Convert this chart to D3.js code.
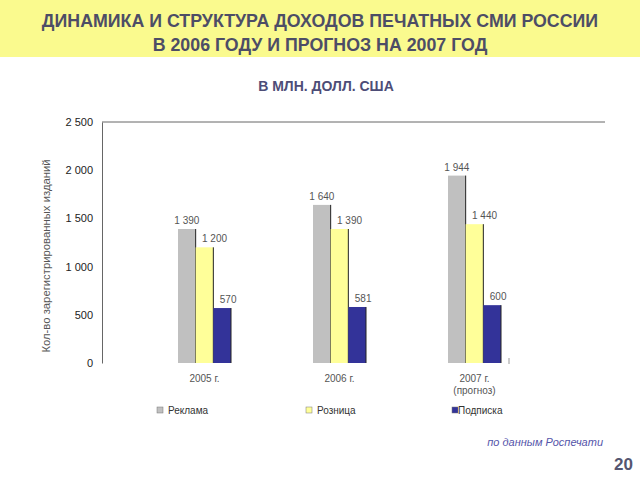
<!DOCTYPE html>
<html><head><meta charset="utf-8">
<script src="https://cdn.jsdelivr.net/npm/d3@7"></script>
<style>body{margin:0;background:#fff;}svg{display:block;font-family:Arial,"Liberation Sans",sans-serif;}</style>
</head><body><svg id="c" width="640" height="480"></svg>
<script>
const categories = ["2005 г.", "2006 г.", "2007 г.|(прогноз)"];
const seriesNames = ["Реклама", "Розница", "Подписка"];
const reklama = [1390, 1640, 1944];
const roznitsa = [1200, 1390, 1440];
const podpiska = [570, 581, 600];
const yTicks = [0, 500, 1000, 1500, 2000, 2500];
const colors = ["#c0c0c0", "#ffff99", "#333399"];
const labelDx = [0, 10, 6];

const series = [reklama, roznitsa, podpiska];
const svg = d3.select("#c");

// banner
svg.append("rect").attr("x",0).attr("y",0).attr("width",640).attr("height",57).attr("fill","#fafa8e");
svg.append("text").attr("x",320).attr("y",27).attr("text-anchor","middle").attr("font-size",17.8).attr("font-weight","bold").attr("fill","#4d4d66").text("ДИНАМИКА И СТРУКТУРА ДОХОДОВ ПЕЧАТНЫХ СМИ РОССИИ");
svg.append("text").attr("x",320).attr("y",51).attr("text-anchor","middle").attr("font-size",17.8).attr("font-weight","bold").attr("fill","#4d4d66").text("В 2006 ГОДУ И ПРОГНОЗ НА 2007 ГОД");
svg.append("text").attr("x",326).attr("y",91).attr("text-anchor","middle").attr("font-size",14).attr("font-weight","bold").attr("fill","#4d4d77").text("В МЛН. ДОЛЛ. США");

const y = d3.scaleLinear().domain([0,2500]).range([363,122]);
const x0 = d3.scaleBand().domain(categories).range([137,542]).paddingInner(0).paddingOuter(0);
const x1 = d3.scaleBand().domain(seriesNames).range([-26.5,26.5]);
const axisX = 102;

// top line
svg.append("line").attr("x1",axisX).attr("x2",605).attr("y1",y(2500)).attr("y2",y(2500)).attr("stroke","#666").attr("stroke-width",1);

// y axis
const yAxis = svg.append("g").attr("transform",`translate(${axisX},0)`)
  .call(d3.axisLeft(y).tickValues(yTicks).tickSize(0).tickPadding(9)
    .tickFormat(d => d3.format(",")(d).replace(/,/g," ")));
yAxis.select(".domain").attr("stroke","#666");
yAxis.selectAll("text").attr("font-size",11).attr("fill","#222").attr("font-family","Arial,'Liberation Sans',sans-serif");

svg.append("text").attr("transform","translate(50,256) rotate(-90)").attr("text-anchor","middle")
  .attr("font-size",11.3).attr("fill","#555").text("Кол-во зарегистрированных изданий");

// bars
const groups = svg.selectAll("g.grp").data(categories).enter().append("g")
  .attr("transform", d => `translate(${x0(d)+x0.bandwidth()/2},0)`);
groups.each(function(cat, ci){
  const g = d3.select(this);
  seriesNames.forEach((s, si) => {
    const v = series[si][ci];
    const bx = x1(s), bw = x1.bandwidth();
    g.append("rect").attr("x",bx).attr("y",y(v)).attr("width",bw).attr("height",y(0)-y(v)).attr("fill",colors[si]);
    g.append("line").attr("x1",bx+bw).attr("x2",bx+bw).attr("y1",y(v)).attr("y2",y(0)).attr("stroke","#222").attr("stroke-width",1);
    g.append("text").attr("x",bx+bw/2+labelDx[si]).attr("y",y(v)-5).attr("text-anchor","middle")
      .attr("font-size",10).attr("fill","#555").text(d3.format(",")(v).replace(/,/g," "));
  });
  cat.split("|").forEach((line, li) => {
    g.append("text").attr("x",0).attr("y",382+li*12).attr("text-anchor","middle")
      .attr("font-size",10).attr("fill","#555").text(line);
  });
});

// small tick at right end
svg.append("line").attr("x1",509).attr("x2",509).attr("y1",358).attr("y2",364).attr("stroke","#999");

// legend
const legX = [157, 306, 452];
const legTX = [168, 317, 458];
seriesNames.forEach((s,i) => {
  svg.append("rect").attr("x",legX[i]).attr("y",407).attr("width",6).attr("height",6).attr("fill",colors[i]).attr("stroke","#777").attr("stroke-width",0.5);
  svg.append("text").attr("x",legTX[i]).attr("y",413.5).attr("font-size",10).attr("fill","#333").text(s);
});

svg.append("text").attr("x",603).attr("y",446).attr("text-anchor","end").attr("font-size",11).attr("font-style","italic").attr("fill","#5555aa").text("по данным Роспечати");
svg.append("text").attr("x",633).attr("y",470).attr("text-anchor","end").attr("font-size",17).attr("font-weight","bold").attr("fill","#555570").text("20");
</script></body></html>
